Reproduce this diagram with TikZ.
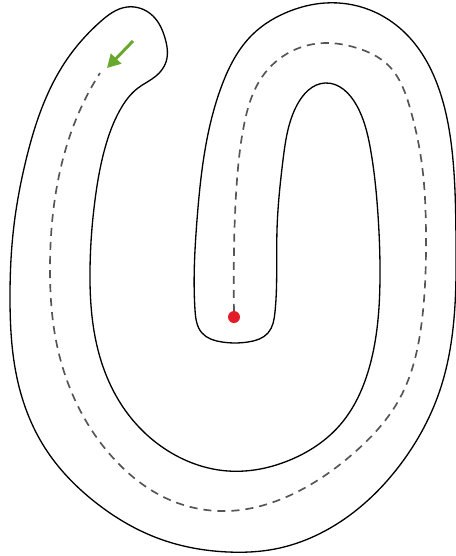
\documentclass[tikz,border=0pt]{standalone}
\usepackage{xcolor}
\definecolor{trackgreen}{RGB}{104,168,44}
\definecolor{trackred}{RGB}{228,28,40}
\definecolor{trackgrey}{RGB}{85,85,85}
\usepackage{tikz}
\usetikzlibrary{arrows.meta,hobby}

\begin{document}
\begin{tikzpicture}[x=0.02cm,y=-0.02cm,
  outline/.style={draw=black,line width=0.75pt},
  guide/.style={draw=trackgrey,line width=0.95pt,dash pattern=on 4.6pt off 3.4pt},
  startdot/.style={fill=trackred},
  heading/.style={draw=trackgreen,line width=1.7pt,-{Triangle[length=7.5pt,width=8pt]}}]
  \useasboundingbox (0,0) rectangle (456,556);
  % track border
  \draw[outline,use Hobby shortcut,closed=true]
    (195,310) .. (197,220) .. (205,150) .. (222,85) .. (252,35) .. (290,11) ..
    (325,3) .. (370,10) .. (410,38) .. (440,92) .. (453,160) .. (456,240) ..
    (455,305) .. (440,390) .. (400,465) .. (340,522) .. (275,549) ..
    (228,552) .. (160,539) .. (95,502) .. (45,448) .. (17,378) ..
    (10,300) .. (14,225) .. (26,160) .. (43,105) .. (70,55) .. (100,22) ..
    (127,7) .. (153,16) .. (165,38) .. (166,62) .. (156,76) .. (138,88) ..
    (120,110) .. (105,148) .. (95,200) .. (90,270) .. (98,350) .. (125,410) ..
    (175,455) .. (228,471) .. (290,460) .. (340,425) .. (370,365) ..
    (380,278) .. (378,215) .. (371,152) .. (357,106) .. (325,83) ..
    (297,105) .. (283,160) .. (277,230) .. (275,312) .. (268,333) .. (248,342) ..
    (222,342) .. (202,333);
  % centre line
  \draw[guide,use Hobby shortcut]
    (234,312) .. (234,250) .. (237,180) .. (244,125) .. (262,77) .. (292,51) ..
    (325,43) .. (357,48) .. (388,65) .. (410,108) .. (422,165) .. (426,235) ..
    (422,320) .. (400,398) .. (355,452) .. (295,493) .. (228,511) ..
    (170,500) .. (115,460) .. (75,400) .. (55,335) .. (50,270) .. (54,205) ..
    (64,155) .. (80,110) .. (100,73);
  % start and direction
  \fill[startdot] (234,317) circle (6);
  \coordinate (tail) at (133,41);
  \coordinate (tip) at (107,68);
  \draw[heading] (tail) -- (tip);
\end{tikzpicture}
\end{document}
